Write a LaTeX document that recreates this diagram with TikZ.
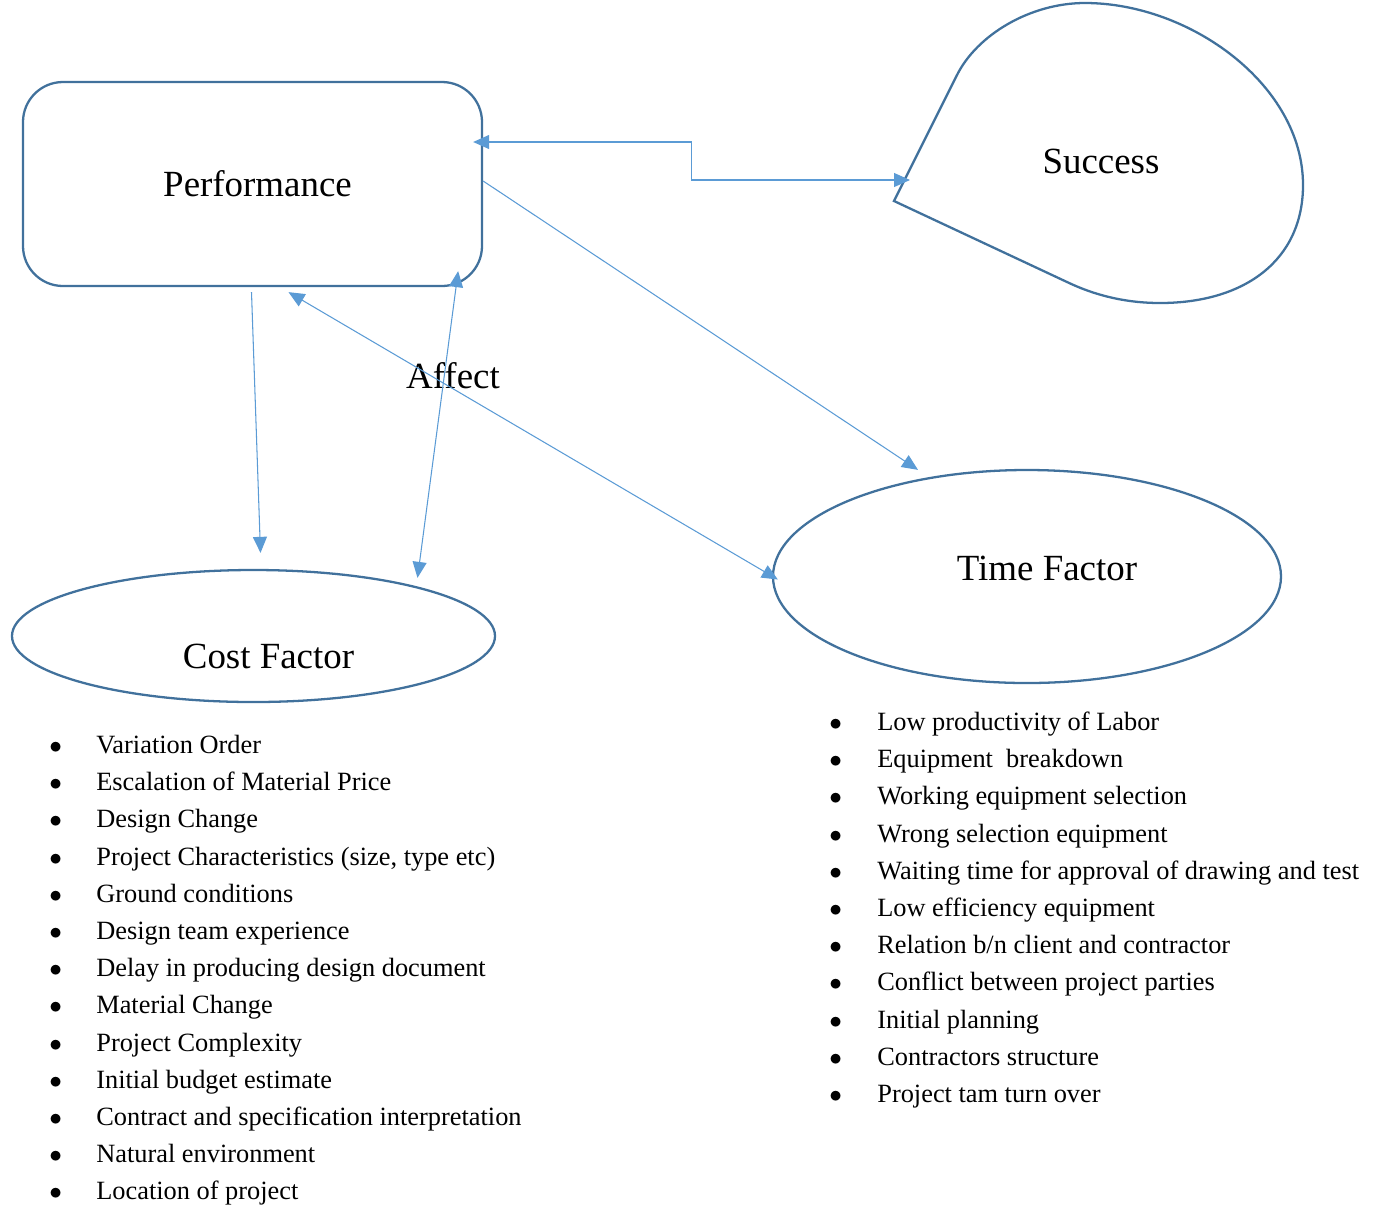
\documentclass[tikz,border=0pt]{standalone}
\usepackage{fontspec}
\setmainfont{Liberation Serif}
\usepackage{tikz}
\usetikzlibrary{shapes,arrows.meta,positioning,calc}
\definecolor{shapeblue}{HTML}{41719C}
\definecolor{lineblue}{HTML}{5B9BD5}
\newcommand{\bigtext}{\fontsize{21}{25}\selectfont}
\newcommand{\listtext}{\fontsize{15}{21.17}\selectfont}
\newcommand{\blt}{$\bullet$}

\begin{document}
\begin{tikzpicture}
  [
    x=0.2mm, y=-0.2mm,
    Box/.style={rectangle, rounded corners=8mm, draw=shapeblue, line width=1.3pt, minimum width=91.8mm, minimum height=40.8mm, font=\bigtext},
    Oval/.style={ellipse, draw=shapeblue, line width=1.3pt, inner sep=0pt},
    Title/.style={font=\bigtext, inner sep=0pt},
    List/.style={anchor=north west, inner sep=0pt, font=\listtext},
    Link/.style={draw=lineblue, line width=0.6pt, -{Triangle[length=3.2mm, width=2.8mm]}},
    Both/.style={Link, {Triangle[length=3.2mm, width=2.8mm]}-{Triangle[length=3.2mm, width=2.8mm]}}
  ]
  \useasboundingbox (0,0) rectangle (1379,1206);
  % Nodes
  \node[Box, label={[Title, xshift=1mm]center:Performance}] (perf) at (252.5,184) {};
  \node[Oval, minimum width=101.6mm, minimum height=42.6mm,
    label={[Title, xshift=4mm, yshift=1.6mm]center:Time Factor}] (time) at (1027,576.5) {};
  \node[Oval, minimum width=96.6mm, minimum height=26.4mm,
    label={[Title, xshift=3mm, yshift=-4mm]center:Cost Factor}] (cost) at (253.5,636) {};
  \node[Title] (succ) at (1101,161) {Success};
  \node[Title] (affect) at (453,376) {Affect};
  \coordinate (succin) at ($(succ)+(-191,19)$);
  \coordinate (perfout) at ($(perf.east)+(-10,-42)$);
  % Success shape
  \draw[shapeblue, line width=1.3pt] (894,201) -- (957,75)
    .. controls (977,35) and (1030,3) .. (1085,3)
    .. controls (1190,3) and (1303,85) .. (1303,185)
    .. controls (1303,260) and (1245,303) .. (1160,303)
    .. controls (1125,303) and (1094,295) .. (1067,282) -- cycle;
  % Lists
  \node[List] (costlist) at (49,727) {\begin{tabular}{@{}p{9.4mm}@{}l@{}}
    \blt & Variation Order\\
    \blt & Escalation of Material Price\\
    \blt & Design Change\\
    \blt & Project Characteristics (size, type etc)\\
    \blt & Ground conditions\\
    \blt & Design team experience\\
    \blt & Delay in producing design document\\
    \blt & Material Change\\
    \blt & Project Complexity\\
    \blt & Initial budget estimate\\
    \blt & Contract and specification interpretation\\
    \blt & Natural environment\\
    \blt & Location of project
  \end{tabular}};
  \node[List] (timelist) at (829,704) {\begin{tabular}{@{}p{9.6mm}@{}l@{}}
    \blt & Low productivity of Labor\\
    \blt & Equipment\ \ breakdown\\
    \blt & Working equipment selection\\
    \blt & Wrong selection equipment\\
    \blt & Waiting time for approval of drawing and test\\
    \blt & Low efficiency equipment\\
    \blt & Relation b/n client and contractor\\
    \blt & Conflict between project parties\\
    \blt & Initial planning\\
    \blt & Contractors structure\\
    \blt & Project tam turn over
  \end{tabular}};
  % Lines
  \path [Both] (perfout) -| ($(perfout)!.5!(succin)$) |- (succin);
  \path [Link] ($(perf.south)+(-1,5)$) -- ($(cost.north)+(7,-16)$);
  \path [Both] ($(perf.south east)+(-25,-16)$) -- ($(cost.north)+(164,9)$);
  \path [Link] ($(perf.east)+(0,-3)$) -- ($(time.north)+(-109,1)$);
  \path [Both] ($(time.west)+(6,3)$) -- ($(perf.south)+(36,5)$);
\end{tikzpicture}
\end{document}
